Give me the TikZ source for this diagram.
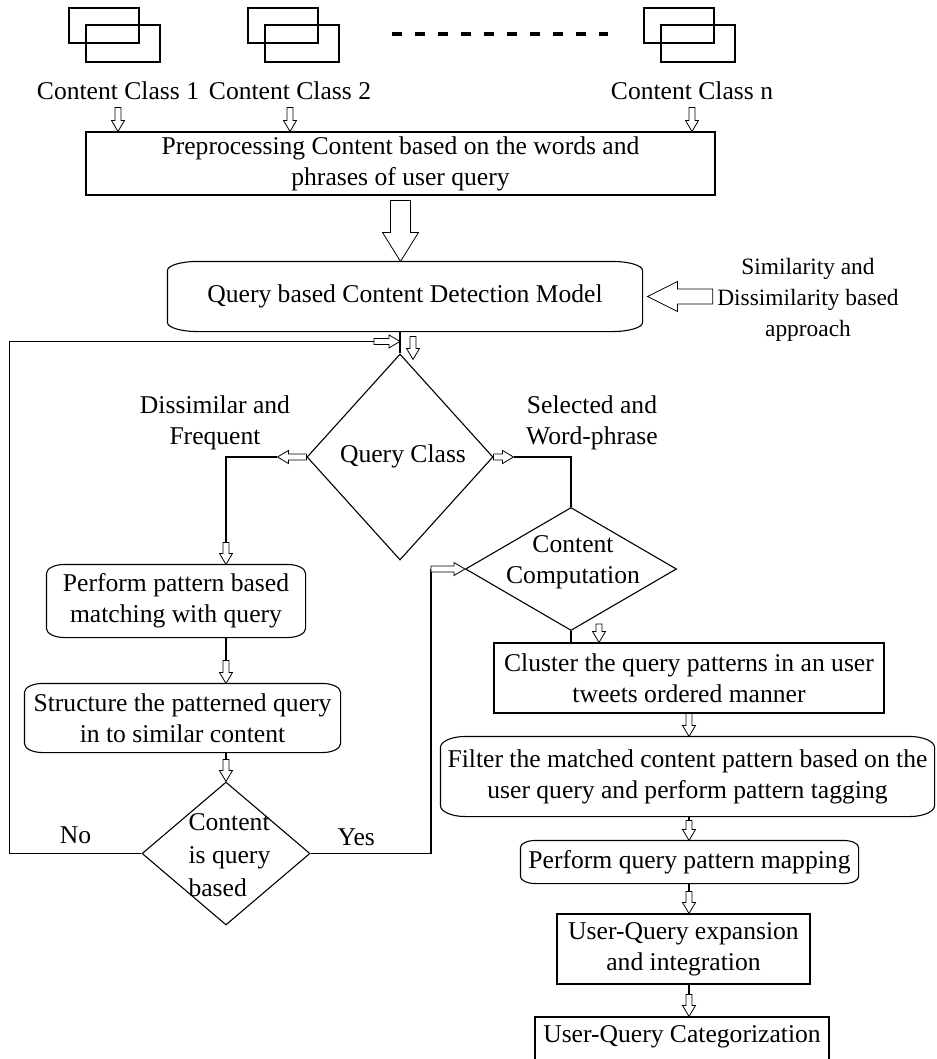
\documentclass[tikz,border=0pt]{standalone}
\usepackage{fontspec}
\setmainfont{Liberation Serif}
\usetikzlibrary{shapes.geometric,calc}

% frame with bowed left and right sides
\newcommand{\bowframe}[3]{%
  \draw ($(#1.north west)+(#2,0)$) -- ($(#1.north east)+(-#2,0)$)
    .. controls +(0.55*#2,0) and +(0,-0.55*#3) .. ($(#1.north east)+(0,#3)$)
    -- ($(#1.south east)+(0,-#3)$)
    .. controls +(0,0.55*#3) and +(0.55*#2,0) .. ($(#1.south east)+(-#2,0)$)
    -- ($(#1.south west)+(#2,0)$)
    .. controls +(-0.55*#2,0) and +(0,0.55*#3) .. ($(#1.south west)+(0,-#3)$)
    -- ($(#1.north west)+(0,#3)$)
    .. controls +(0,-0.55*#3) and +(-0.55*#2,0) .. ($(#1.north west)+(#2,0)$) -- cycle;}

\tikzset{
  blockarrow/.style n args={3}{draw, fill=white, line width=0.8pt,
    to path={let \p1=(\tikztostart), \p2=(\tikztotarget),
      \n1={atan2(\y2-\y1,\x2-\x1)} in
      ($(\p1)+(\n1+90:#1)$) -- ($(\p2)+(\n1+180:#3)+(\n1+90:#1)$)
      -- ($(\p2)+(\n1+180:#3)+(\n1+90:#2)$) -- (\p2)
      -- ($(\p2)+(\n1+180:#3)+(\n1-90:#2)$)
      -- ($(\p2)+(\n1+180:#3)+(\n1-90:#1)$)
      -- ($(\p1)+(\n1-90:#1)$) -- cycle}},
  smallarrow/.style={blockarrow={3pt}{6.5pt}{11pt}}
}

\begin{document}
\begin{tikzpicture}[x=1pt, y=-1pt, line width=1.1pt,
  every node/.style={font=\fontsize{25.6pt}{31pt}\selectfont, inner sep=0pt},
  procbox/.style={draw, rectangle, align=center},
  softbox/.style={align=center},
  decision/.style={draw, diamond},
  classbox/.style={draw, rectangle, line width=1.3pt}]

\useasboundingbox (0,0) rectangle (936,1059);
\clip (0,0) rectangle (936,1059);

% content classes
\foreach \x/\k in {69/1,248/2,644/n}{
  \node[classbox, minimum width=70pt, minimum height=35pt] (back\k) at (\x+35,25.5) {};
  \node[classbox, minimum width=74pt, minimum height=37pt] (front\k) at (\x+54,43.5) {};
}
\node (cls1) at (118,91) {Content Class 1};
\node (cls2) at (290,91) {Content Class 2};
\node (clsn) at (692,91) {Content Class n};
\draw[line width=4.5pt, dash pattern=on 10pt off 13pt] (392,34) -- (608,34);

% preprocessing
\node[procbox, minimum width=629pt, minimum height=63pt] (prep) at (400.5,163.5)
  {Preprocessing Content based on the words and\\phrases of user query};
\foreach \k in {1,2,n}
  \draw[smallarrow] ([yshift=-7pt]cls\k.south) to (cls\k.south |- prep.north);

% detection model
\node[softbox, minimum width=474pt, minimum height=69pt] (model) at (405,296.5)
  {Query based Content Detection Model};
\bowframe{model}{30}{9}
\draw[blockarrow={10pt}{18pt}{29pt}] ([yshift=-5pt]prep.south) to (prep.south |- model.north);

\node[align=center, font=\fontsize{23.4pt}{31pt}\selectfont] (simdis) at (808,300)
  {Similarity and\\Dissimilarity based\\approach};
\draw[blockarrow={7.5pt}{15pt}{30pt}] ([xshift=-4pt]simdis.west |- model.east) to ([xshift=5pt]model.east);

% query class
\node[decision, minimum width=186pt, minimum height=206pt] (qc) at (400,457) {};
\node (qctext) at (403,456) {Query Class};
\draw (qc.north |- model.south) -- (qc.north);
\draw[smallarrow] ($(qc.north)+(13,-17)$) to ($(qc.north)+(13,6)$);

% content computation
\node[decision, minimum width=211pt, minimum height=123pt] (cc) at (571,569) {};
\node[align=center] (cctext) at (573,562) {Content\\Computation};

% left column
\node[softbox, minimum width=258pt, minimum height=72pt] (pat) at (176,601)
  {Perform pattern based\\matching with query};
\bowframe{pat}{18}{9}
\node[softbox, minimum width=315pt, minimum height=68pt] (struc) at (182.5,718)
  {Structure the patterned query\\in to similar content};
\bowframe{struc}{18}{9}
\node[decision, minimum width=168pt, minimum height=143pt] (ciq) at (226,853.5) {};
\node[align=left, anchor=west, font=\fontsize{25.6pt}{33pt}\selectfont] (ciqtext) at (188,855)
  {Content\\is query\\based};

% branches of query class
\coordinate (dfbend) at ($(qc.west)+(-29,0)$);
\coordinate (patin) at (pat.north -| ciq.north);
\draw (dfbend) -| ($(patin)+(0,-22)$);
\draw[smallarrow] (qc.west) to (dfbend);
\draw[smallarrow] ($(patin)+(0,-22)$) to (patin);
\node[align=center] (dflabel) at (215,423) {Dissimilar and\\Frequent};

\coordinate (swbend) at ($(qc.east)+(20,0)$);
\draw (swbend) -| (cc.north);
\draw[smallarrow] (qc.east) to (swbend);
\node[align=center] (swlabel) at (592,423) {Selected and\\Word-phrase};

% left column links
\draw (pat.south -| ciq.north) -- (struc.north -| ciq.north);
\draw[smallarrow] ($(struc.north -| ciq.north)+(0,-23)$) to (struc.north -| ciq.north);
\draw (struc.south -| ciq.north) -- (ciq.north);
\draw[smallarrow] ($(ciq.north)+(0,-22)$) to (ciq.north);

% no / yes
\coordinate (looptip) at ($(qc.north)+(0,-12)$);
\coordinate (loopin) at ($(looptip)+(-26,0)$);
\draw (ciq.west) -- node[above=9pt] (nolabel) {No} ++(-132,0) |- (loopin);
\draw[smallarrow] (loopin) to (looptip);

\coordinate (yesup) at ($(cc.west)+(-34,0)$);
\draw (ciq.east) -- node[above=7pt, pos=0.38] (yeslabel) {Yes} (yesup |- ciq.east) -- (yesup);
\draw[smallarrow] (yesup) to (cc.west);

% right column
\node[procbox, minimum width=390pt, minimum height=70pt] (clus) at (689,678)
  {Cluster the query patterns in an user\\tweets ordered manner};
\node[softbox, minimum width=493pt, minimum height=79pt] (filt) at (687.5,776.5)
  {Filter the matched content pattern based on the\\user query and perform pattern tagging};
\bowframe{filt}{25}{11}
\node[softbox, minimum width=337pt, minimum height=42pt] (pmap) at (689.5,862)
  {Perform query pattern mapping};
\bowframe{pmap}{15}{7}
\node[procbox, minimum width=253pt, minimum height=70pt] (expand) at (683.5,949)
  {User-Query expansion\\and integration};
\node[procbox, minimum width=294pt, minimum height=70pt] (categ) at (682,1052) {};
\node (categtext) at (682,1037) {User-Query Categorization};

\draw (cc.south) -- (cc.south |- clus.north);
\draw[smallarrow] ($(cc.south)+(28,-7)$) to ($(cc.south |- clus.north)+(28,0)$);
\draw[smallarrow] (clus.south) to (clus.south |- filt.north);
\draw (clus.south |- filt.south) -- (clus.south |- pmap.north);
\draw[smallarrow] ($(clus.south |- pmap.north)+(0,-20)$) to (clus.south |- pmap.north);
\draw (clus.south |- pmap.south) -- (clus.south |- expand.north);
\draw[smallarrow] ($(clus.south |- expand.north)+(0,-22)$) to (clus.south |- expand.north);
\draw (clus.south |- expand.south) -- (clus.south |- categ.north);
\draw[smallarrow] ($(clus.south |- categ.north)+(0,-22)$) to (clus.south |- categ.north);
\end{tikzpicture}
\end{document}
